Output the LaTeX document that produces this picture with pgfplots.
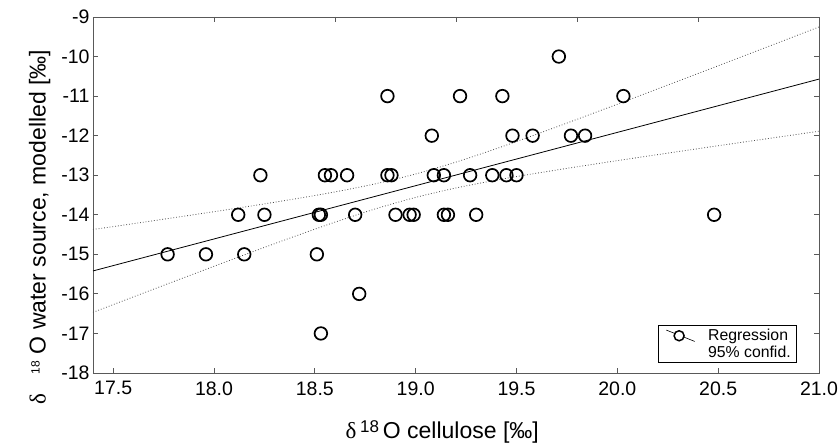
\documentclass[border=0pt]{standalone}
\usepackage{pgfplots}
\pgfplotsset{compat=1.18}
\usepackage{fontspec}
\setmainfont{Liberation Sans}
\newfontfamily\grk{Liberation Serif}
\begin{document}
\begin{tikzpicture}
\useasboundingbox (-93pt,-73pt) rectangle (747pt,373pt);
\begin{axis}[
  scale only axis, width=726pt, height=356pt,
  xmin=17.4, xmax=21.0, ymin=-18, ymax=-9,
  xtick={18.0,18.6,19.2,19.8,20.4}, xticklabels={},
  xtick pos=top, ytick=\empty,
  tick align=inside, major tick length=5pt,
  axis line style={black!65, line width=0.9pt},
  every tick/.style={black!65, line width=0.8pt},
]
\end{axis}
\begin{axis}[
  scale only axis, width=726pt, height=356pt,
  xmin=17.4, xmax=21.0, ymin=-18, ymax=-9,
  xtick={17.5,18.0,...,21.0}, ytick={-18,-17,...,-9},
  xtick pos=bottom, ytick pos=both,
  tick align=inside, major tick length=5pt,
  axis line style={black!65, line width=0.9pt},
  every tick/.style={black!65, line width=0.8pt},
  /pgf/number format/assume math mode=true,
  xticklabel style={/pgf/number format/fixed, /pgf/number format/fixed zerofill, /pgf/number format/precision=1, yshift=-5pt},
  ticklabel style={font=\fontsize{19.5}{22}\selectfont},
  xlabel={{\grk δ}\,\raisebox{6pt}{\fontsize{17}{17}\selectfont 18}\,O cellulose [‰]},
  ylabel={{\grk δ}\hspace{19pt}\raisebox{6pt}{\fontsize{12}{12}\selectfont 18}\hspace{7pt}O water source, modelled [‰]},
  label style={font=\fontsize{23}{26}\selectfont},
  xlabel style={at={(ticklabel cs:0.481)}, yshift=-18pt},
  ylabel style={at={(ticklabel cs:0.41)}, yshift=4pt},
  legend style={draw=black, line width=0.6pt, font=\fontsize{15.8}{17}\selectfont,
    at={(0.9697,0.0281)}, anchor=south east, inner xsep=4pt, inner ysep=2pt,
    row sep=-0.5pt, column sep=0pt, cells={anchor=west}},
  legend cell align=left,
]
\addplot[only marks, mark=o, mark size=6.3pt, mark options={line width=1.7pt, black}, forget plot] coordinates {
(19.71,-10)
(18.86,-11) (19.22,-11) (19.43,-11) (20.03,-11)
(19.08,-12) (19.48,-12) (19.58,-12) (19.77,-12) (19.84,-12)
(18.23,-13) (18.55,-13) (18.58,-13) (18.66,-13) (18.86,-13) (18.88,-13)
(19.09,-13) (19.14,-13) (19.27,-13) (19.38,-13) (19.45,-13) (19.50,-13)
(18.12,-14) (18.25,-14) (18.52,-14) (18.53,-14) (18.70,-14) (18.90,-14)
(18.97,-14) (18.99,-14) (19.14,-14) (19.16,-14) (19.30,-14) (20.48,-14)
(17.77,-15) (17.96,-15) (18.15,-15) (18.51,-15)
(18.72,-16)
(18.53,-17)
};
\addlegendimage{legend image code/.code={\path[draw=none] (0cm,0cm) rectangle (1.55cm,0cm); \draw[black, line width=0.6pt] (0.15cm,0.2cm)--(1.15cm,-0.2cm); \draw[black, line width=1.5pt, fill=white] (0.6cm,0cm) circle (5pt);}}
\addlegendentry{Regression}
\addlegendimage{legend image code/.code={\path[draw=none] (0cm,0cm) rectangle (1.55cm,0cm);}}
\addlegendentry{95\% confid.}
\addplot[black, line width=0.8pt, forget plot] coordinates {(17.4,-15.42) (21.0,-10.57)};
\addplot[black!70, line width=0.8pt, dash pattern=on 0.8pt off 2pt, smooth, forget plot] coordinates {
(17.4,-14.373) (17.6,-14.225) (17.8,-14.074) (18.0,-13.922) (18.2,-13.765) (18.4,-13.600)
(18.6,-13.422) (18.8,-13.217) (19.0,-12.969) (19.2,-12.668) (19.4,-12.328) (19.6,-11.963)
(19.8,-11.587) (20.0,-11.205) (20.2,-10.817) (20.4,-10.429) (20.6,-10.037) (20.8,-9.645) (21.0,-9.252)
};
\addplot[black!70, line width=0.8pt, dash pattern=on 0.8pt off 2pt, smooth, forget plot] coordinates {
(17.4,-16.467) (17.6,-16.077) (17.8,-15.688) (18.0,-15.302) (18.2,-14.919) (18.4,-14.546)
(18.6,-14.186) (18.8,-13.851) (19.0,-13.561) (19.2,-13.322) (19.4,-13.124) (19.6,-12.949)
(19.8,-12.787) (20.0,-12.631) (20.2,-12.479) (20.4,-12.329) (20.6,-12.181) (20.8,-12.035) (21.0,-11.888)
};
\end{axis}
\end{tikzpicture}
\end{document}
